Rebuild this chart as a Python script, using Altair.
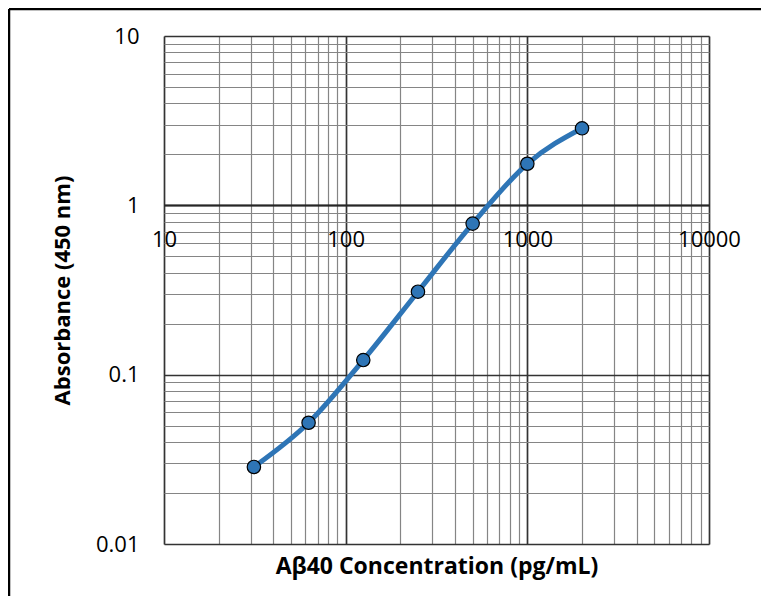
import altair as alt
import pandas as pd

conc = [31.25, 62.5, 125, 250, 500, 1000, 2000]
absorb = [0.0285, 0.052, 0.122, 0.309, 0.78, 1.76, 2.85]

x_decades = [10, 100, 1000, 10000]
y_decades = [0.01, 0.1, 1, 10]
x_minor = [m * d for d in [10, 100, 1000] for m in range(2, 10)]
y_minor = [round(m * d, 4) for d in [0.01, 0.1, 1] for m in range(2, 10)]

df = pd.DataFrame({"conc": conc, "abs": absorb})

W, H = 545, 508
PL, PT = 156, 28
FONT = "Open Sans"
TOTAL_W, TOTAL_H = 753, 588

x_vals = sorted(x_decades + x_minor)
y_vals = sorted(y_decades + y_minor)

x_dec_js = "[" + ",".join(str(v) for v in x_decades) + "]"
y_dec_js = "[" + ",".join(str(v) for v in y_decades) + "]"

x_grid_color = {"condition": {"test": f"indexof({x_dec_js}, datum.value) >= 0", "value": "#333333"}, "value": "#858585"}
y_grid_color = {"condition": {"test": f"indexof({y_dec_js}, datum.value) >= 0", "value": "#333333"}, "value": "#858585"}
x_grid_w = {"condition": {"test": f"indexof({x_dec_js}, datum.value) >= 0", "value": 1.7}, "value": 1.2}
y_grid_w = {"condition": {"test": f"indexof({y_dec_js}, datum.value) >= 0", "value": 1.7}, "value": 1.2}

x_scale = alt.Scale(type="log", domain=[10, 10000], nice=False)
y_scale = alt.Scale(type="log", domain=[0.01, 10], nice=False)

x_axis = alt.Axis(
    values=x_vals,
    grid=True,
    gridColor=x_grid_color,
    gridWidth=x_grid_w,
    gridOpacity=1,
    labelExpr=f"indexof({x_dec_js}, datum.value) >= 0 ? '' + datum.value : ''",
    labelFont=FONT,
    labelFontSize=22,
    labelColor="#000000",
    labelBaseline="middle",
    labelPadding=34,
    labelFlush=False,
    labelOverlap=False,
    ticks=False,
    tickSize=0,
    domain=True,
    domainColor="#262626",
    domainWidth=2,
    offset=-339,
    title="Aβ40 Concentration (pg/mL)",
    titleFont=FONT,
    titleFontSize=23,
    titleFontWeight="bold",
    titleColor="#000000",
    titleY=361,
    titleBaseline="middle",
)

y_axis = alt.Axis(
    values=y_vals,
    grid=True,
    gridColor=y_grid_color,
    gridWidth=y_grid_w,
    gridOpacity=1,
    labelExpr=f"indexof({y_dec_js}, datum.value) >= 0 ? '' + datum.value : ''",
    labelFont=FONT,
    labelFontSize=22,
    labelColor="#000000",
    labelPadding=25,
    labelFlush=False,
    labelOverlap=False,
    ticks=False,
    tickSize=0,
    domain=False,
    title="Absorbance (450 nm)",
    titleFont=FONT,
    titleFontSize=22,
    titleFontWeight="bold",
    titleColor="#000000",
    titleAngle=270,
    titleX=-102,
    titleY=H / 2,
    titleAlign="center",
    titleBaseline="middle",
)

base = alt.Chart(df).encode(
    x=alt.X("conc:Q", scale=x_scale, axis=x_axis),
    y=alt.Y("abs:Q", scale=y_scale, axis=y_axis),
)

line = base.mark_line(color="#2E75B6", strokeWidth=5, interpolate="monotone")
pts = base.mark_point(filled=True, size=180, color="#2E75B6", stroke="#000000", strokeWidth=1.2, opacity=1, shape="circle")

frame = pd.DataFrame({"a": [0]})
border_top = alt.Chart(frame).mark_rule(color="#000000", strokeWidth=2.5).encode(
    x=alt.value(-PL + 1),
    x2=alt.value(TOTAL_W - PL + 20),
    y=alt.value(-PT + 1),
)
border_left = alt.Chart(frame).mark_rule(color="#000000", strokeWidth=2.5).encode(
    x=alt.value(-PL + 1),
    y=alt.value(-PT + 1),
    y2=alt.value(TOTAL_H - PT + 20),
)

chart = alt.layer(border_top, border_left, line, pts).properties(
    width=W,
    height=H,
    autosize=alt.AutoSizeParams(type="none"),
    padding={"left": PL, "top": PT, "right": TOTAL_W - PL - W, "bottom": TOTAL_H - PT - H},
).configure_view(
    stroke="#595959", strokeWidth=1.5
).configure(background="white")

chart.save("out.html", embed_options={"renderer": "svg", "actions": False})
